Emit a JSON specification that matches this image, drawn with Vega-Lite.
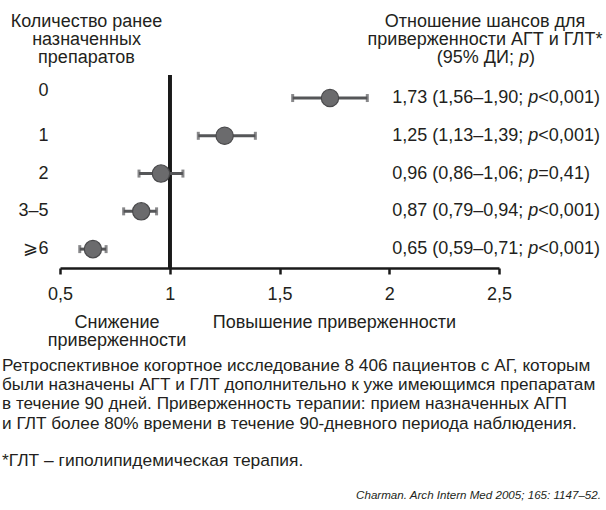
{
  "$schema": "https://vega.github.io/schema/vega-lite/v6.json",
  "width": 439,
  "height": 193,
  "autosize": {"type": "none"},
  "padding": {"left": 60, "top": 75, "right": 107, "bottom": 242},
  "background": "white",
  "config": {
    "font": "Liberation Sans",
    "view": {"stroke": null},
    "text": {"color": "#231f20", "fontSize": 18}
  },
  "datasets": {
    "adherence": [
      {"group": "0", "or": 1.73, "lo": 1.56, "hi": 1.90, "est": "1,73 (1,56–1,90; ", "pval": "<0,001)"},
      {"group": "1", "or": 1.25, "lo": 1.13, "hi": 1.39, "est": "1,25 (1,13–1,39; ", "pval": "<0,001)"},
      {"group": "2", "or": 0.96, "lo": 0.86, "hi": 1.06, "est": "0,96 (0,86–1,06; ", "pval": "=0,41)"},
      {"group": "3–5", "or": 0.87, "lo": 0.79, "hi": 0.94, "est": "0,87 (0,79–0,94; ", "pval": "<0,001)"},
      {"group": "⩾6", "or": 0.65, "lo": 0.59, "hi": 0.71, "est": "0,65 (0,59–0,71; ", "pval": "<0,001)"}
    ]
  },
  "data": {"name": "adherence"},
  "encoding": {
    "y": {
      "field": "group",
      "type": "nominal",
      "title": ["Количество ранее", "назначенных", "препаратов"],
      "scale": {
        "domain": ["0", "1", "2", "3–5", "⩾6"],
        "paddingInner": 0,
        "paddingOuter": 0.055,
        "align": 1
      },
      "axis": {
        "domain": false,
        "ticks": false,
        "labelFontSize": 18,
        "labelColor": "#231f20",
        "labelPadding": 12,
        "labelBaseline": "middle",
        "labelOffset": {"condition": {"test": "datum.value === '0'", "value": -7}, "value": 0},
        "titleAngle": 0,
        "titleAlign": "center",
        "titleBaseline": "alphabetic",
        "titleX": 26,
        "titleY": -48.5,
        "titleLineHeight": 18.2,
        "titleFontSize": 18,
        "titleFontWeight": "normal",
        "titleColor": "#231f20"
      }
    }
  },
  "layer": [
    {
      "mark": {"type": "rule", "color": "#1a1a1a", "strokeWidth": 3.5},
      "encoding": {
        "x": {
          "datum": 1,
          "type": "quantitative",
          "title": null,
          "scale": {"domain": [0.5, 2.5], "nice": false, "zero": false},
          "axis": {
            "values": [0.5, 1, 1.5, 2, 2.5],
            "labelExpr": "replace(format(datum.value, ''), '.', ',')",
            "labelFlush": false,
            "labelAlign": "center",
            "domainColor": "#1a1a1a",
            "domainWidth": 2.5,
            "tickColor": "#1a1a1a",
            "tickWidth": 2.5,
            "tickSize": 6,
            "labelFontSize": 18,
            "labelColor": "#231f20",
            "labelBaseline": "alphabetic",
            "labelPadding": 25,
            "grid": false
          }
        },
        "y": null
      }
    },
    {
      "mark": {"type": "rule", "color": "#555658", "strokeWidth": 3},
      "encoding": {
        "x": {"field": "lo", "type": "quantitative", "title": null},
        "x2": {"field": "hi"}
      }
    },
    {
      "mark": {"type": "tick", "orient": "vertical", "color": "#555658", "size": 8, "thickness": 3},
      "encoding": {"x": {"field": "lo", "type": "quantitative", "title": null}}
    },
    {
      "mark": {"type": "tick", "orient": "vertical", "color": "#555658", "size": 8, "thickness": 3},
      "encoding": {"x": {"field": "hi", "type": "quantitative", "title": null}}
    },
    {
      "mark": {"type": "point", "shape": "circle", "filled": true, "size": 300, "color": "#6b6b6d", "opacity": 1, "stroke": "#4a4a4c", "strokeWidth": 1.2},
      "encoding": {"x": {"field": "or", "type": "quantitative", "title": null}}
    },
    {
      "mark": {"type": "text", "align": "left", "baseline": "middle", "dx": 3, "fontSize": 18},
      "encoding": {"x": {"datum": 2, "type": "quantitative"}, "text": {"field": "est"}}
    },
    {
      "mark": {"type": "text", "align": "left", "baseline": "middle", "dx": 139.1, "fontSize": 18, "fontStyle": "italic", "text": "p"},
      "encoding": {"x": {"datum": 2, "type": "quantitative"}}
    },
    {
      "mark": {"type": "text", "align": "left", "baseline": "middle", "dx": 149.1, "fontSize": 18},
      "encoding": {"x": {"datum": 2, "type": "quantitative"}, "text": {"field": "pval"}}
    },
    {
      "data": {"values": [{}]},
      "mark": {"type": "text", "align": "center", "baseline": "alphabetic", "lineHeight": 18.2, "dx": -14, "dy": -71.5, "fontSize": 18,
               "text": ["Отношение шансов для", "приверженности АГТ и ГЛТ*"]},
      "encoding": {"x": {"datum": 2.5, "type": "quantitative"}, "y": {"datum": "0"}}
    },
    {
      "data": {"values": [{}]},
      "mark": {"type": "text", "align": "right", "baseline": "alphabetic", "dx": 15, "dy": -35.3, "fontSize": 18, "text": "(95% ДИ;"},
      "encoding": {"x": {"datum": 2.5, "type": "quantitative"}, "y": {"datum": "0"}}
    },
    {
      "data": {"values": [{}]},
      "mark": {"type": "text", "align": "left", "baseline": "alphabetic", "dx": 20, "dy": -35.3, "fontSize": 18, "fontStyle": "italic", "text": "p"},
      "encoding": {"x": {"datum": 2.5, "type": "quantitative"}, "y": {"datum": "0"}}
    },
    {
      "data": {"values": [{}]},
      "mark": {"type": "text", "align": "left", "baseline": "alphabetic", "dx": 30, "dy": -35.3, "fontSize": 18, "text": ")"},
      "encoding": {"x": {"datum": 2.5, "type": "quantitative"}, "y": {"datum": "0"}}
    },
    {
      "data": {"values": [{}]},
      "mark": {"type": "text", "align": "center", "baseline": "alphabetic", "lineHeight": 18.5, "dy": 78.5, "fontSize": 18,
               "text": ["Снижение", "приверженности"]},
      "encoding": {"x": {"datum": 0.76, "type": "quantitative"}, "y": {"datum": "⩾6"}}
    },
    {
      "data": {"values": [{}]},
      "mark": {"type": "text", "align": "center", "baseline": "alphabetic", "dy": 78.5, "fontSize": 18,
               "text": "Повышение приверженности"},
      "encoding": {"x": {"datum": 1.75, "type": "quantitative"}, "y": {"datum": "⩾6"}}
    },
    {
      "data": {"values": [{}]},
      "mark": {"type": "text", "align": "left", "baseline": "alphabetic", "lineHeight": 19.3, "dx": -58, "dy": 121.5, "fontSize": 17.2,
               "text": [
                 "Ретроспективное когортное исследование 8 406 пациентов с АГ, которым",
                 "были назначены АГТ и ГЛТ дополнительно к уже имеющимся препаратам",
                 "в течение 90 дней. Приверженность терапии: прием назначенных АГП",
                 "и ГЛТ более 80% времени в течение 90-дневного периода наблюдения."
               ]},
      "encoding": {"x": {"datum": 0.5, "type": "quantitative"}, "y": {"datum": "⩾6"}}
    },
    {
      "data": {"values": [{}]},
      "mark": {"type": "text", "align": "left", "baseline": "alphabetic", "dx": -58, "dy": 216.5, "fontSize": 17.4,
               "text": "*ГЛТ – гиполипидемическая терапия."},
      "encoding": {"x": {"datum": 0.5, "type": "quantitative"}, "y": {"datum": "⩾6"}}
    },
    {
      "data": {"values": [{}]},
      "mark": {"type": "text", "align": "right", "baseline": "alphabetic", "dx": 102, "dy": 249.5, "fontSize": 11.6, "fontStyle": "italic",
               "text": "Charman. Arch Intern Med 2005; 165: 1147–52."},
      "encoding": {"x": {"datum": 2.5, "type": "quantitative"}, "y": {"datum": "⩾6"}}
    }
  ]
}
